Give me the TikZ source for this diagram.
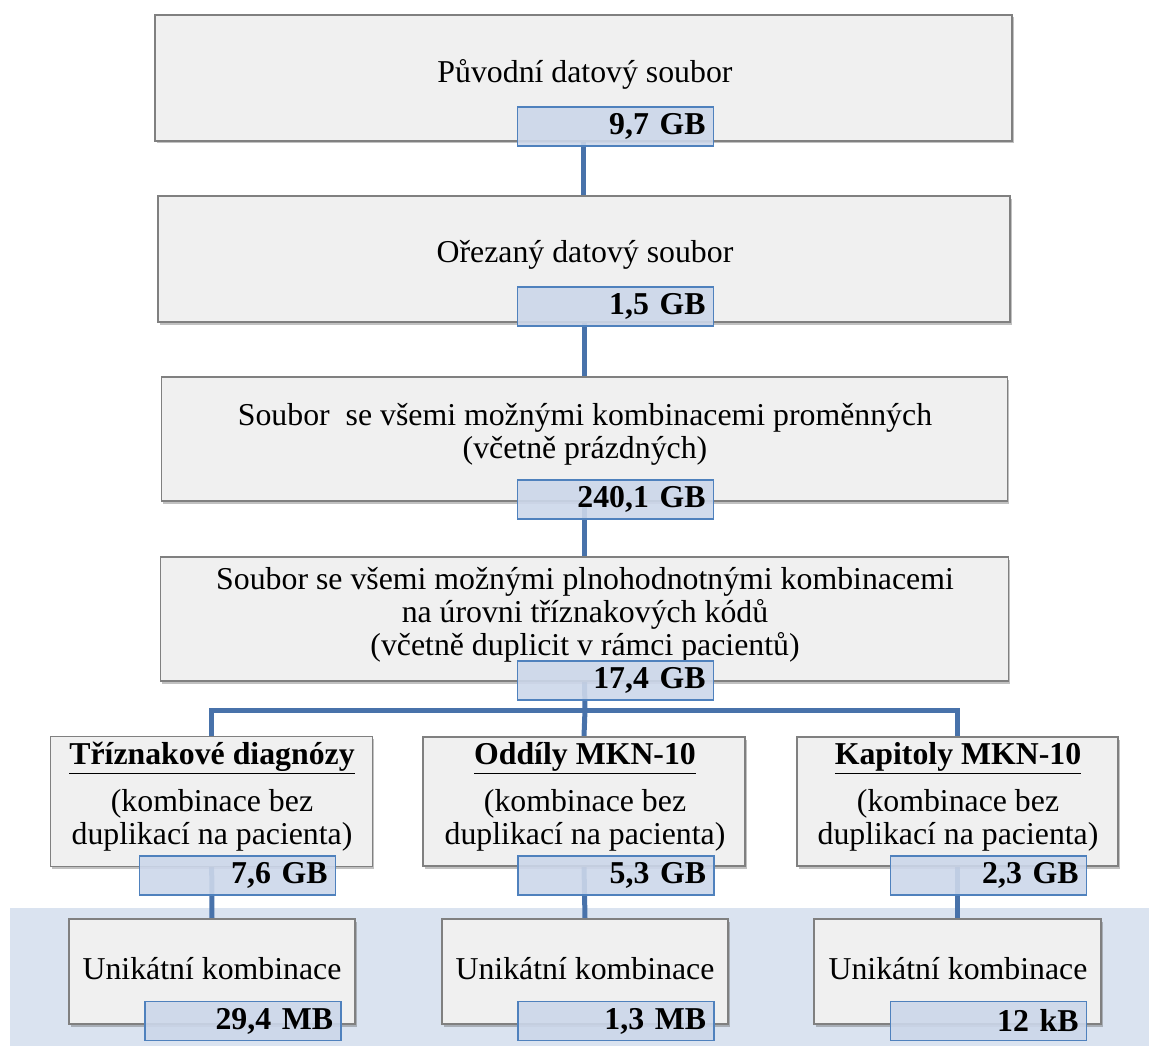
\documentclass[tikz,border=0pt]{standalone}
\usepackage{fontspec}
\setmainfont{Liberation Serif}
\usetikzlibrary{shadows,backgrounds}
\definecolor{boxfill}{RGB}{240,240,240}
\definecolor{boxline}{RGB}{128,128,128}
\definecolor{badgefill}{RGB}{204,215,234}
\definecolor{badgeline}{RGB}{79,129,189}
\definecolor{connline}{RGB}{72,114,170}
\definecolor{bandfill}{RGB}{218,227,240}
\newcommand{\bigfont}{\fontsize{31.8}{33}\selectfont}
\tikzset{
  stagebox/.style={draw=boxline, line width=1.4pt, fill=boxfill, inner sep=0pt,
    drop shadow={shadow xshift=1.5pt, shadow yshift=-2.5pt, opacity=0.35, fill=black!70}},
  badge/.style={draw=badgeline, line width=1.8pt, fill=badgefill, fill opacity=0.9,
    text opacity=1, inner xsep=8pt, inner ysep=0pt, text width=180pt, align=right,
    minimum height=39pt, font=\bigfont\bfseries},
  conn/.style={draw=connline, line width=5pt},
  txt/.style={align=center, inner sep=0pt},
  headtxt/.style={txt, font=\bigfont\bfseries},
}
\begin{document}
\begin{tikzpicture}[x=1pt, y=-1pt, font=\bigfont]
\useasboundingbox (0,0) rectangle (1149,1046);

% main chain of stages
\node[stagebox, minimum width=857pt, minimum height=126pt] (b1) at (583.5,78) {};
\node[stagebox, minimum width=852pt, minimum height=126pt] (b2) at (584,259) {};
\node[stagebox, minimum width=846pt, minimum height=124pt] (b3) at (584.5,439) {};
\node[stagebox, minimum width=848pt, minimum height=124pt] (b4) at (584.5,619) {};

\node[txt] (t1) at (585,74) {Původní datový soubor};
\node[txt] (t2) at (585,255) {Ořezaný datový soubor};
\node[txt] (t3) at (585,434) {Soubor\ \ se všemi možnými kombinacemi proměnných\\(včetně prázdných)};
\node[txt] (t4) at (585,615) {Soubor se všemi možnými plnohodnotnými kombinacemi\\na úrovni tříznakových kódů\\(včetně duplicit v rámci pacientů)};

\node[badge] (s1) at (615.5,126.5) {9,7 GB};
\node[badge] (s2) at (615.5,306.5) {1,5 GB};
\node[badge] (s3) at (615.5,499.5) {240,1 GB};
\node[badge] (s4) at (615.5,680.5) {17,4 GB};

% three branches
\node[stagebox, minimum width=322pt, minimum height=130pt] (L1) at (211.7,801.5) {};
\node[stagebox, minimum width=322pt, minimum height=129pt] (M1) at (584,801.5) {};
\node[stagebox, minimum width=321pt, minimum height=129pt] (R1) at (957.5,801.5) {};

\node[headtxt] (lt) at (212,758) {\underline{Tříznakové diagnózy}};
\node[headtxt] (mt) at (585,758) {\underline{Oddíly MKN-10}};
\node[headtxt] (rt) at (958,758) {\underline{Kapitoly MKN-10}};

\node[txt] (ls) at (212,820) {(kombinace bez\\duplikací na pacienta)};
\node[txt] (ms) at (585,820) {(kombinace bez\\duplikací na pacienta)};
\node[txt] (rs) at (958,820) {(kombinace bez\\duplikací na pacienta)};

\node[badge] (lb) at (237.5,875.5) {7,6 GB};
\node[badge] (mb) at (616,875.5) {5,3 GB};
\node[badge] (rb) at (988.5,875.5) {2,3 GB};

% unique combinations
\node[stagebox, minimum width=286pt, minimum height=105pt] (L2) at (212,971.5) {};
\node[stagebox, minimum width=286pt, minimum height=105pt] (M2) at (585,971.5) {};
\node[stagebox, minimum width=287pt, minimum height=105pt] (R2) at (957.5,971.5) {};

\node[txt] (lu) at (212,969) {Unikátní kombinace};
\node[txt] (mu) at (585,969) {Unikátní kombinace};
\node[txt] (ru) at (958,969) {Unikátní kombinace};

\node[badge] (lc) at (243,1021) {29,4 MB};
\node[badge] (mc) at (616,1021) {1,3 MB};
\node[badge] (rc) at (988.5,1021) {12 kB};

\coordinate (bus) at (585,710);

\begin{pgfonlayer}{background}
  \fill[bandfill] (10,908) rectangle (1149,1046);
  \draw[conn] (b1.south) -- (b1.south |- b2.north);
  \draw[conn] (b2.south) -- (b2.south |- b3.north);
  \draw[conn] (b3.south) -- (b3.south |- b4.north);
  \draw[conn] (b4.south) -- (bus);
  \draw[conn] (L1.north) |- (bus) -| (R1.north);
  \draw[conn] (bus) -- (M1.north);
  \draw[conn] (L1.south) -- (L2.north);
  \draw[conn] (M1.south) -- (M2.north);
  \draw[conn] (R1.south) -- (R2.north);
\end{pgfonlayer}
\end{tikzpicture}
\end{document}
